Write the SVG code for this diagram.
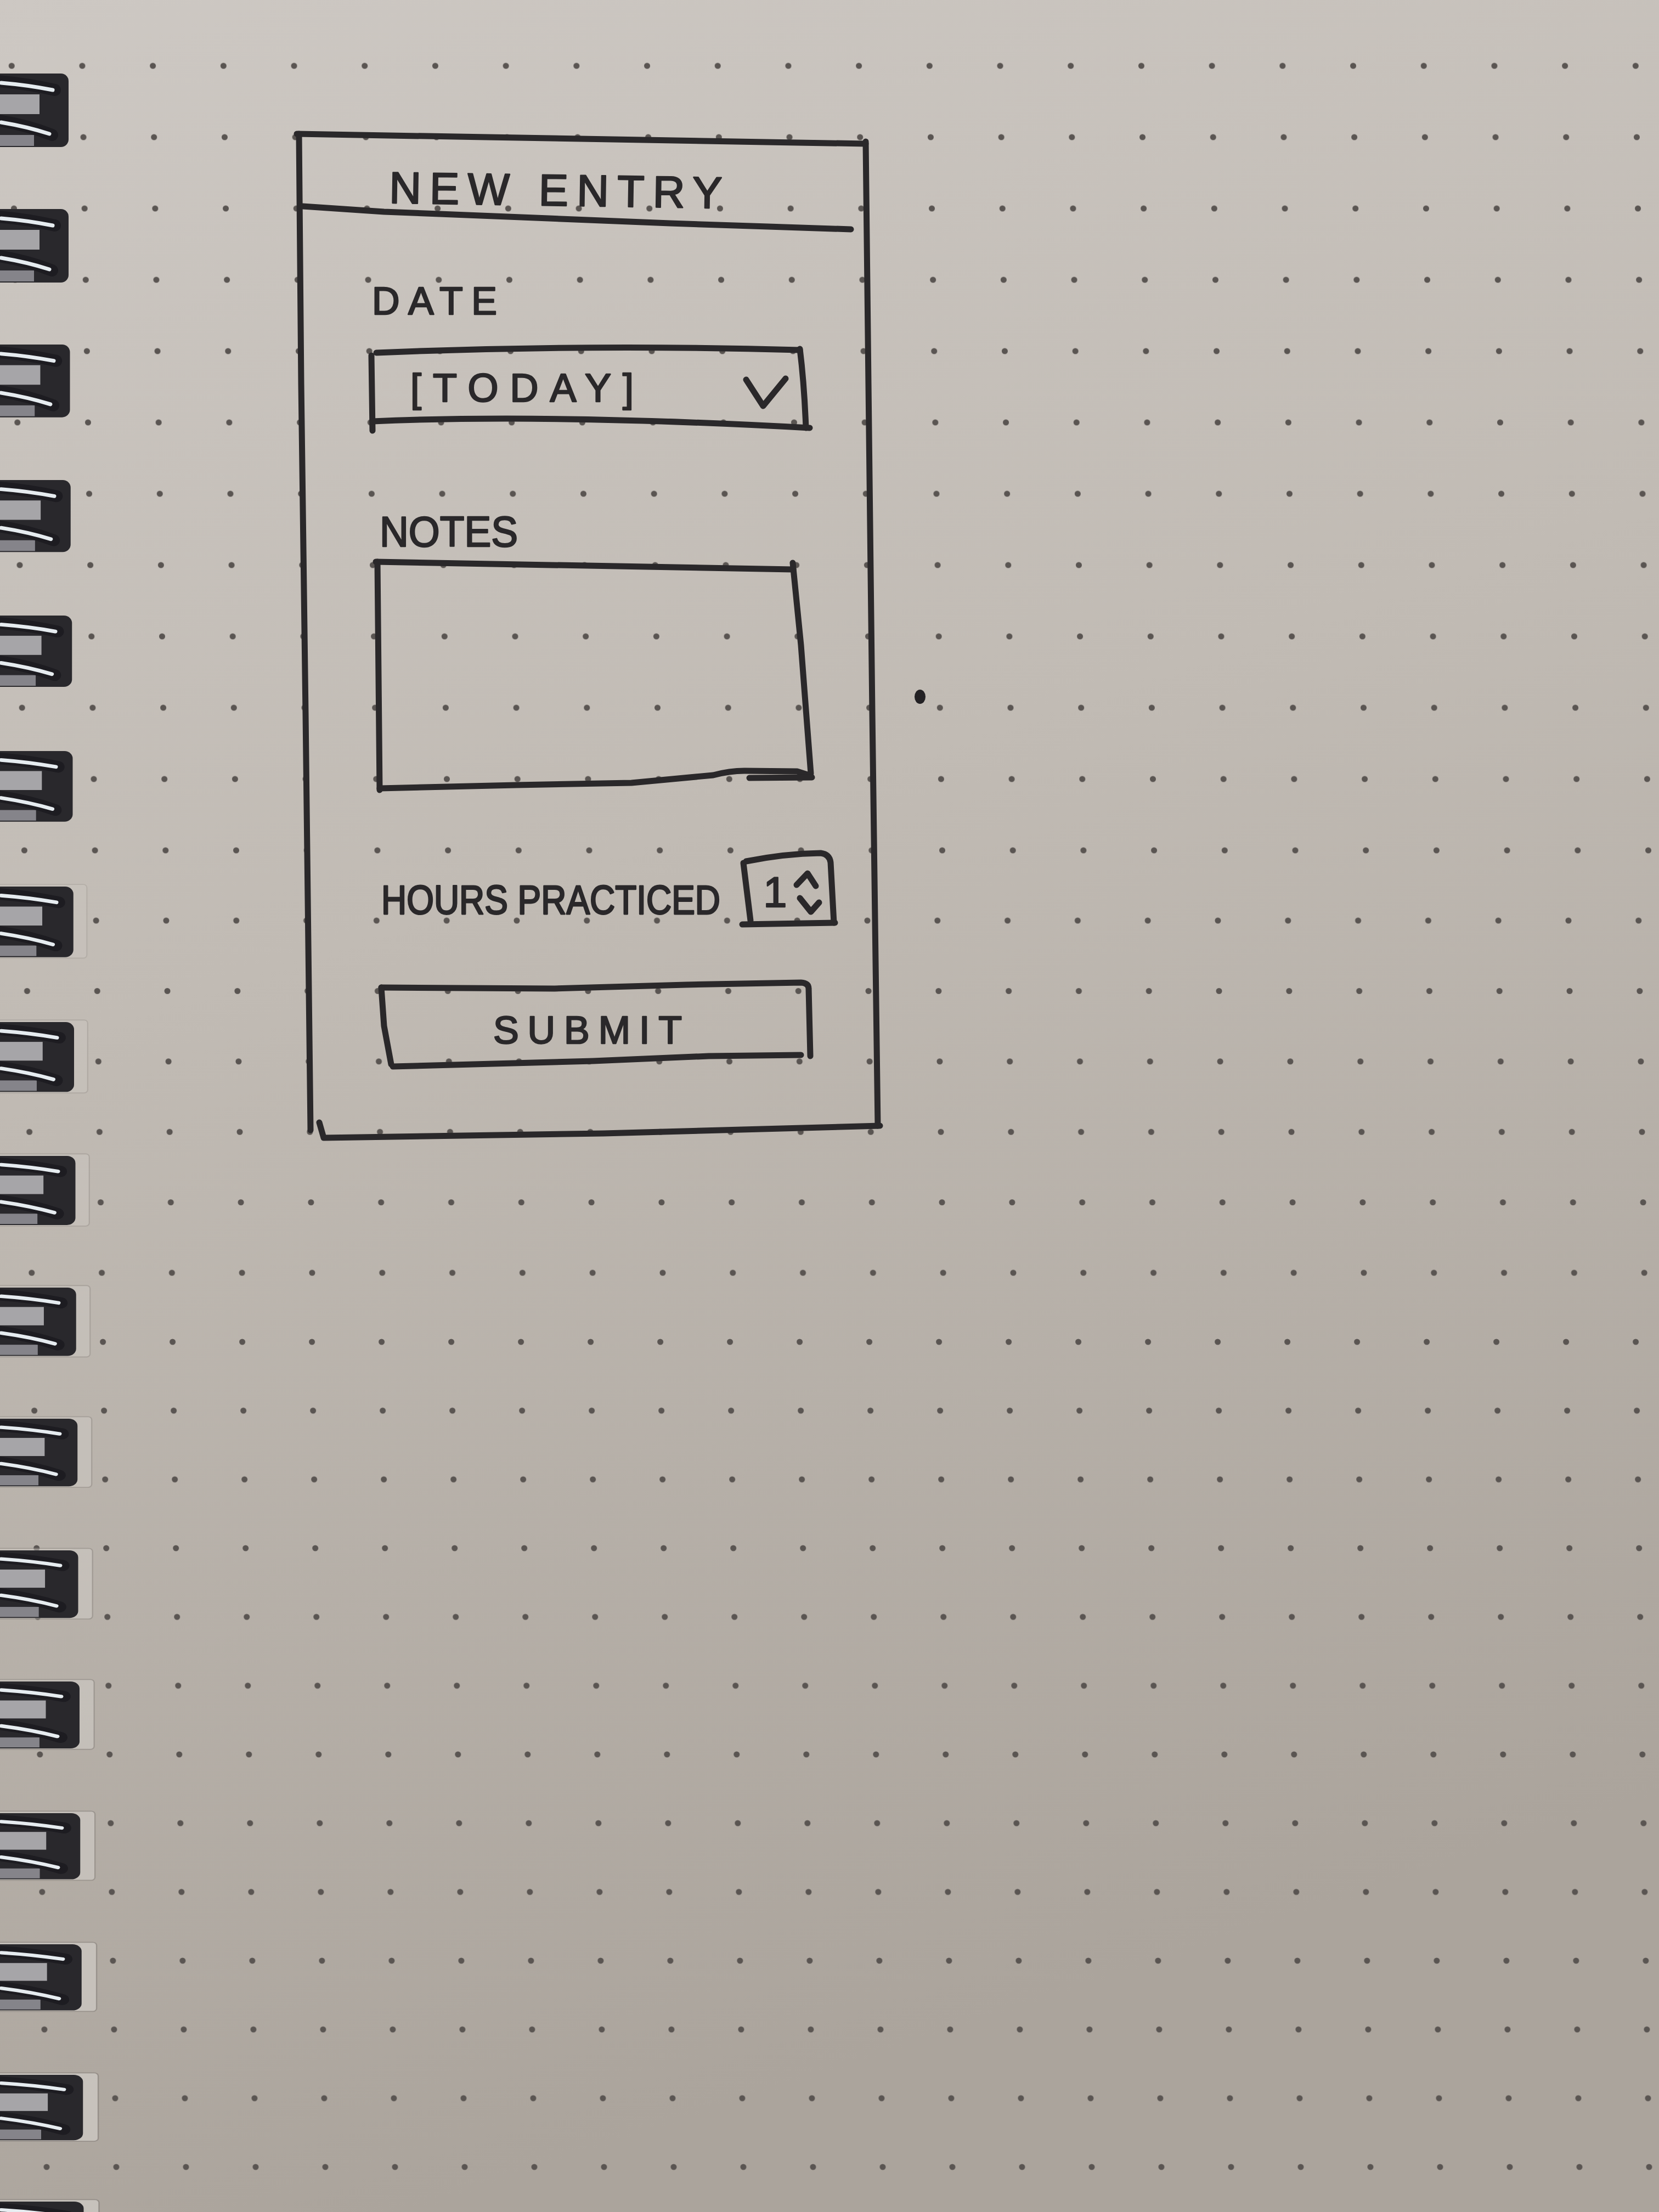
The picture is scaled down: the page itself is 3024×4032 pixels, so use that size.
<svg xmlns="http://www.w3.org/2000/svg" xmlns:xlink="http://www.w3.org/1999/xlink" width="3024" height="4032" viewBox="0 0 3024 4032">
<style>
.ink{fill:none;stroke:#2a282a;stroke-width:11;stroke-linecap:round;stroke-linejoin:round}
.txt{font-family:"Liberation Sans",Arial,sans-serif;fill:#2a282a;stroke:#2a282a;stroke-width:2.5;stroke-linejoin:round}
.dot{fill:#5a5552}
.wire{fill:none;stroke:#1d1c21;stroke-width:22;stroke-linecap:round}
.shine{fill:none;stroke:#e6ecf0;stroke-width:7;stroke-linecap:round}
</style>
<defs>
<linearGradient id="paperGrad" x1="0" y1="0" x2="0.25" y2="1">
<stop offset="0" stop-color="#cdc8c3"/>
<stop offset="0.45" stop-color="#c1bbb4"/>
<stop offset="1" stop-color="#aba49c"/>
</linearGradient>
<pattern id="dots1" patternUnits="userSpaceOnUse" x="83.65" y="55" width="128.7" height="130" patternTransform="skewX(0.928)">
<circle class="dot" cx="64.35" cy="65" r="5.5"/>
</pattern>
<pattern id="dots2" patternUnits="userSpaceOnUse" x="84.1" y="1613.8" width="127.8" height="128.4" patternTransform="skewX(0.928)">
<circle class="dot" cx="63.9" cy="64.2" r="5.5"/>
</pattern>
<pattern id="dots3" patternUnits="userSpaceOnUse" x="84.5" y="2383.3" width="127" height="125.33" patternTransform="skewX(0.928)">
<circle class="dot" cx="63.5" cy="62.67" r="5.5"/>
</pattern>
<g id="coil">
<rect x="-30" y="0" width="155" height="134" rx="14" fill="#29282c"/>
<rect x="-30" y="38" width="102" height="36" fill="#a6a5a8"/>
<rect x="-30" y="112" width="92" height="20" fill="#85848a"/>
<path class="wire" d="M-30 12 Q 40 16 100 30"/>
<path class="shine" d="M2 17 Q 50 21 96 30"/>
<path class="wire" d="M-30 82 Q 40 90 95 112"/>
<path class="shine" d="M2 89 Q 50 97 90 110"/>
</g>
<rect id="rim" x="-30" y="-4" width="178" height="140" rx="6" fill="#d2cec9" stroke="#8c8681" stroke-width="2"/>
</defs>

<g id="paper">
<rect x="0" y="0" width="3024" height="4032" fill="url(#paperGrad)"/>
<rect x="0" y="0" width="3024" height="1614" fill="url(#dots1)"/>
<rect x="0" y="1614" width="3024" height="770" fill="url(#dots2)"/>
<rect x="0" y="2384" width="3024" height="1648" fill="url(#dots3)"/>
<ellipse cx="1677" cy="1270" rx="10" ry="13" fill="#232124"/>
</g>

<g id="binding">
<use xlink:href="#rim" transform="translate(0,1616) scale(1.07,0.96)" opacity="0.25"/>
<use xlink:href="#rim" transform="translate(0,1863) scale(1.08,0.95)" opacity="0.3"/>
<use xlink:href="#rim" transform="translate(0,2107) scale(1.10,0.94)" opacity="0.35"/>
<use xlink:href="#rim" transform="translate(0,2347) scale(1.11,0.93)" opacity="0.4"/>
<use xlink:href="#rim" transform="translate(0,2586) scale(1.13,0.92)" opacity="0.45"/>
<use xlink:href="#rim" transform="translate(0,2826) scale(1.14,0.92)" opacity="0.5"/>
<use xlink:href="#rim" transform="translate(0,3065) scale(1.16,0.91)" opacity="0.55"/>
<use xlink:href="#rim" transform="translate(0,3305) scale(1.17,0.90)" opacity="0.6"/>
<use xlink:href="#rim" transform="translate(0,3544) scale(1.19,0.90)" opacity="0.65"/>
<use xlink:href="#rim" transform="translate(0,3782) scale(1.21,0.89)" opacity="0.7"/>
<use xlink:href="#rim" transform="translate(0,4013) scale(1.22,0.89)" opacity="0.7"/>
<use xlink:href="#coil" transform="translate(0,134)"/>
<use xlink:href="#coil" transform="translate(0,381)"/>
<use xlink:href="#coil" transform="translate(0,628) scale(1.02,0.99)"/>
<use xlink:href="#coil" transform="translate(0,875) scale(1.03,0.98)"/>
<use xlink:href="#coil" transform="translate(0,1122) scale(1.05,0.97)"/>
<use xlink:href="#coil" transform="translate(0,1369) scale(1.06,0.96)"/>
<use xlink:href="#coil" transform="translate(0,1616) scale(1.07,0.96)"/>
<use xlink:href="#coil" transform="translate(0,1863) scale(1.08,0.95)"/>
<use xlink:href="#coil" transform="translate(0,2107) scale(1.10,0.94)"/>
<use xlink:href="#coil" transform="translate(0,2347) scale(1.11,0.93)"/>
<use xlink:href="#coil" transform="translate(0,2586) scale(1.13,0.92)"/>
<use xlink:href="#coil" transform="translate(0,2826) scale(1.14,0.92)"/>
<use xlink:href="#coil" transform="translate(0,3065) scale(1.16,0.91)"/>
<use xlink:href="#coil" transform="translate(0,3305) scale(1.17,0.90)"/>
<use xlink:href="#coil" transform="translate(0,3544) scale(1.19,0.90)"/>
<use xlink:href="#coil" transform="translate(0,3782) scale(1.21,0.89)"/>
<use xlink:href="#coil" transform="translate(0,4013) scale(1.22,0.89)"/>
</g>

<g id="form">
<g id="frame">
<path class="ink" d="M541 244 C 800 247, 1200 256, 1578 262"/>
<path class="ink" d="M545 244 L 549 700 L 557 1300 L 566 2060"/>
<path class="ink" d="M1578 258 L 1583 700 L 1590 1300 L 1600 2052"/>
<path class="ink" d="M582 2046 L 590 2074 L 1100 2066 L 1604 2052"/>
</g>
<g id="header">
<path class="ink" d="M552 376 L 700 386 L 801 390 L 1000 398 L 1221 407 L 1400 413 L 1551 418"/>
<text class="txt" x="709" y="370" font-size="81" textLength="607" lengthAdjust="spacing" transform="rotate(0.9 709 366)">NEW ENTRY</text>
</g>
<g id="date-field">
<text class="txt" x="678" y="573" font-size="70" textLength="228" lengthAdjust="spacing">DATE</text>
<path class="ink" d="M686 643 Q 1070 627 1458 638"/>
<path class="ink" d="M1458 636 Q 1466 700 1469 780"/>
<path class="ink" d="M677 648 L 679 785"/>
<path class="ink" d="M679 768 Q 1000 754 1476 780"/>
<text class="txt" x="748" y="732" font-size="72" textLength="407" lengthAdjust="spacing">[TODAY]</text>
<path class="ink" d="M1360 692 L 1391 740 L 1432 690"/>
</g>
<g id="notes-field">
<text class="txt" x="692" y="996" font-size="77" textLength="252" lengthAdjust="spacingAndGlyphs">NOTES</text>
<path class="ink" d="M685 1024 Q 1000 1030 1446 1038"/>
<path class="ink" d="M1445 1026 L 1460 1176 L 1478 1410"/>
<path class="ink" d="M688 1024 L 692 1440"/>
<path class="ink" d="M692 1437 L 941 1431 L 1151 1427 L 1300 1413 Q 1330 1405 1357 1405 L 1453 1406 L 1478 1414"/>
<path class="ink" d="M1366 1418 L 1480 1417"/>
</g>
<g id="hours-field">
<text class="txt" x="695" y="0" font-size="63" textLength="618" lengthAdjust="spacingAndGlyphs" transform="translate(0,1666) scale(1,1.19)">HOURS PRACTICED</text>
<path class="ink" d="M1355 1573 L 1368 1678"/>
<path class="ink" d="M1360 1570 Q 1430 1556 1496 1555 Q 1512 1557 1514 1572 L 1520 1682"/>
<path class="ink" d="M1353 1685 L 1522 1682"/>
<text class="txt" x="1413" y="1653" font-size="77" text-anchor="middle">1</text>
<path class="ink" d="M1452 1613 L 1472 1592 L 1487 1615"/>
<path class="ink" d="M1458 1637 L 1478 1662 L 1493 1645"/>
</g>
<g id="submit-button">
<path class="ink" d="M695 1800 L 1011 1802 L 1250 1795 L 1460 1791 Q 1474 1792 1474 1802 L 1477 1925"/>
<path class="ink" d="M695 1800 L 700 1870 L 713 1940"/>
<path class="ink" d="M716 1944 L 1081 1934 L 1292 1925 L 1460 1923"/>
<text class="txt" x="899" y="1902" font-size="70" textLength="344" lengthAdjust="spacing">SUBMIT</text>
</g>
</g>
</svg>
